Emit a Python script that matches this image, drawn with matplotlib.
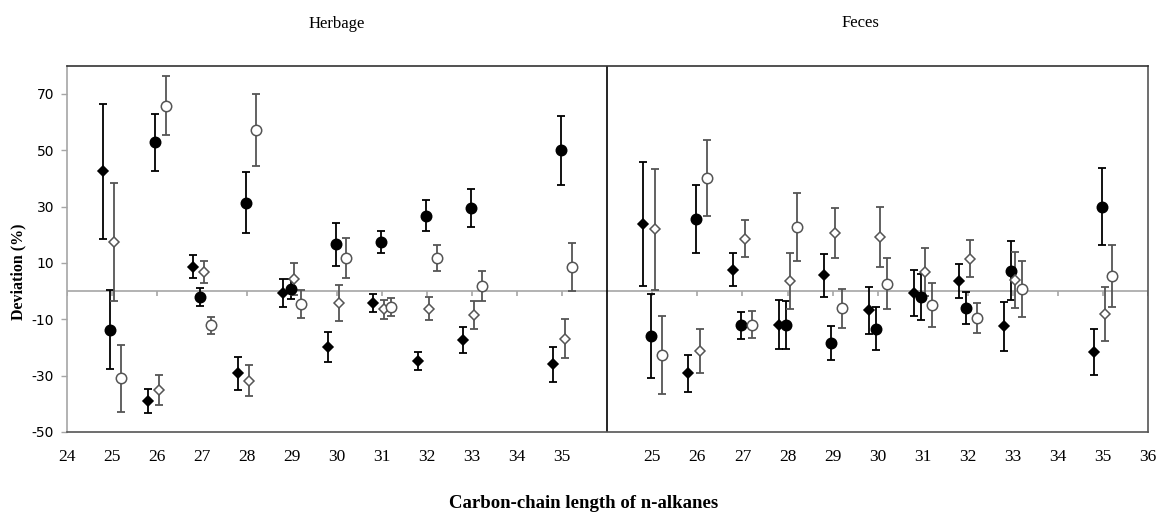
import matplotlib
matplotlib.use("Agg")
import matplotlib.pyplot as plt
import numpy as np

# ---------------- data ----------------
categories = [25, 26, 27, 28, 29, 30, 31, 32, 33, 35]

herb_fd = [42.5, -39, 8.7, -29.2, -0.7, -20, -4.2, -24.8, -17.4, -26]
herb_fd_err = [24, 4.3, 4, 5.9, 5.1, 5.3, 3.3, 3.3, 4.5, 6.2]
herb_fc = [-13.7, 52.8, -2.1, 31.4, 0.7, 16.6, 17.5, 26.7, 29.5, 50]
herb_fc_err = [14, 10.2, 3.3, 10.9, 3.5, 7.7, 3.9, 5.5, 6.9, 12.3]
herb_od = [17.5, -35, 6.8, -31.9, 4.3, -4.2, -6.4, -6.2, -8.6, -16.9]
herb_od_err = [21, 5.3, 3.9, 5.5, 5.6, 6.5, 3.4, 4.1, 4.9, 7]
herb_oc = [-31, 65.8, -12.2, 57.2, -4.5, 11.8, -5.7, 11.8, 1.8, 8.5]
herb_oc_err = [12, 10.4, 3.1, 12.8, 5, 7.1, 3.1, 4.7, 5.3, 8.6]

fec_fd = [23.8, -29.2, 7.6, -11.9, 5.6, -6.8, -0.7, 3.6, -12.5, -21.7]
fec_fd_err = [22, 6.6, 5.9, 8.6, 7.6, 8.4, 8.1, 6.1, 8.7, 8.2]
fec_fc = [-16, 25.5, -12.2, -12, -18.4, -13.4, -2.1, -6, 7.3, 29.9]
fec_fc_err = [14.8, 12, 4.7, 8.6, 5.9, 7.6, 8, 5.6, 10.6, 13.7]
fec_od = [21.9, -21.3, 18.6, 3.6, 20.6, 19.1, 6.8, 11.5, 4, -8.1]
fec_od_err = [21.6, 7.7, 6.5, 10, 8.8, 10.6, 8.5, 6.5, 10, 9.5]
fec_oc = [-22.6, 40.2, -12, 22.8, -6.1, 2.6, -4.8, -9.5, 0.7, 5.4]
fec_oc_err = [13.8, 13.4, 4.8, 12.1, 6.9, 9, 7.8, 5.3, 9.9, 11.1]

herb_tick_labels = [24, 25, 26, 27, 28, 29, 30, 31, 32, 33, 34, 35]
fec_tick_labels = [25, 26, 27, 28, 29, 30, 31, 32, 33, 34, 35, 36]
y_ticks = [-50, -30, -10, 10, 30, 50, 70]

# ---------------- layout ----------------
FEC_SHIFT = 12  # feces category c plotted at c + 12
offsets = {"fd": -0.2, "fc": -0.03, "od": 0.05, "oc": 0.21}

fig = plt.figure(figsize=(11.59, 5.13), dpi=100)
ax = fig.add_axes([0.0575, 0.158, 0.933, 0.714])

cat = np.array(categories, dtype=float)
styles = {
    "fd": dict(marker="D", ms=5.5, mfc="black", mec="black", ecolor="black"),
    "fc": dict(marker="o", ms=7.5, mfc="black", mec="black", ecolor="black"),
    "od": dict(marker="D", ms=5.0, mfc="white", mec="#555555", ecolor="#555555"),
    "oc": dict(marker="o", ms=7.5, mfc="white", mec="#555555", ecolor="#555555"),
}
series = [
    (0, "fd", herb_fd, herb_fd_err), (0, "fc", herb_fc, herb_fc_err),
    (0, "od", herb_od, herb_od_err), (0, "oc", herb_oc, herb_oc_err),
    (FEC_SHIFT, "fd", fec_fd, fec_fd_err), (FEC_SHIFT, "fc", fec_fc, fec_fc_err),
    (FEC_SHIFT, "od", fec_od, fec_od_err), (FEC_SHIFT, "oc", fec_oc, fec_oc_err),
]
for shift, key, vals, errs in series:
    st = styles[key]
    ax.errorbar(cat + shift + offsets[key], vals, yerr=errs, fmt="none",
                ecolor=st["ecolor"], elinewidth=1.3, capsize=3.2, capthick=1.3, zorder=3)
    ax.plot(cat + shift + offsets[key], vals, linestyle="none", marker=st["marker"],
            ms=st["ms"], mfc=st["mfc"], mec=st["mec"], mew=1.1, zorder=4)

ax.set_xlim(24, 48)
ax.set_ylim(-50, 80)

# zero line and its tick marks
ax.axhline(0, color="#a6a6a6", lw=1.2, zorder=1)
tick_pos = list(herb_tick_labels) + [c + FEC_SHIFT for c in fec_tick_labels]
ax.vlines(tick_pos, -1.8, 0, color="#a6a6a6", lw=1.2, zorder=1)
# divider between panels
ax.axvline(36, color="black", lw=1.2, zorder=2)

# x ticks (labels only)
ax.set_xticks(tick_pos)
ax.set_xticklabels([str(v) for v in herb_tick_labels] + [str(v) for v in fec_tick_labels],
                   family="Liberation Serif", fontsize=12.5)
ax.tick_params(axis="x", length=0, pad=12)

ax.set_yticks(y_ticks)
ax.set_yticklabels([str(v) for v in y_ticks], family="DejaVu Sans", fontsize=10)
ax.tick_params(axis="y", length=4, width=1, color="#a6a6a6", pad=5)

ax.spines["left"].set_color("#a6a6a6")
ax.spines["bottom"].set_color("#555555")
ax.spines["top"].set_color("#333333")
ax.spines["right"].set_color("#555555")
for s in ax.spines.values():
    s.set_linewidth(1.2)

fig.text(337 / 1159, 1 - 24 / 513, "Herbage", ha="center", va="center",
         family="Liberation Serif", fontsize=12)
fig.text(860 / 1159, 1 - 23 / 513, "Feces", ha="center", va="center",
         family="Liberation Serif", fontsize=12)
fig.text(584 / 1159, 1 - 503 / 513, "Carbon-chain length of n-alkanes", ha="center",
         va="center", family="Liberation Serif", fontsize=13.5, fontweight="bold")
fig.text(18 / 1159, 1 - 272 / 513, "Deviation (%)", ha="center", va="center",
         rotation=90, family="Liberation Serif", fontsize=11.5, fontweight="bold")

fig.savefig("out.png", dpi=100)
